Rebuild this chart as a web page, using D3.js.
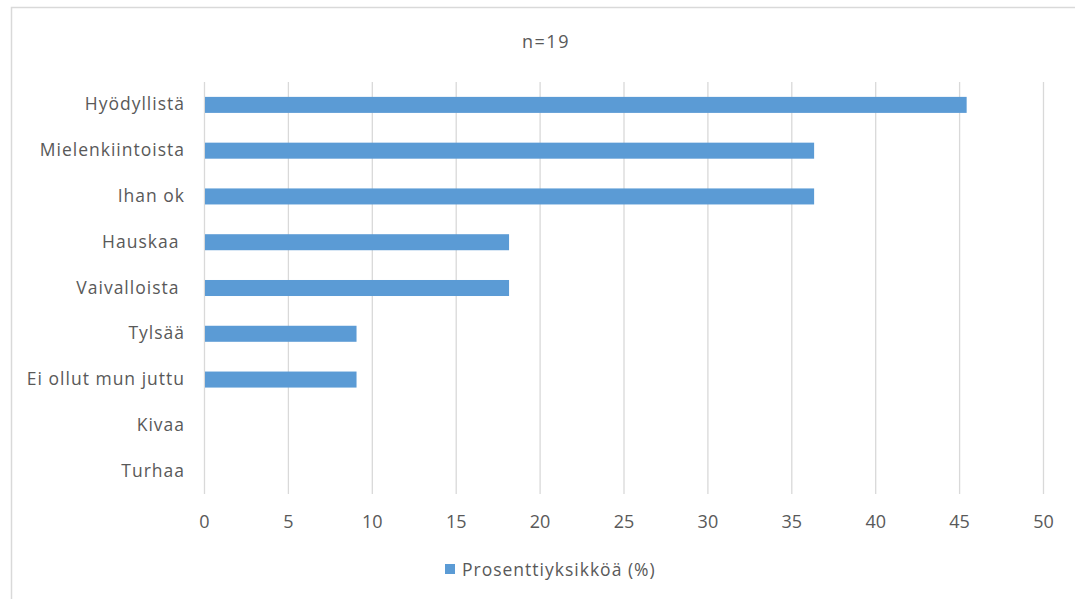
<!DOCTYPE html>
<html>
<head>
<meta charset="utf-8">
<script src="https://cdn.jsdelivr.net/npm/d3@7"></script>
<style>
  body { margin: 0; background: #fff; }
  svg text { font-family: "Open Sans", "Liberation Sans", sans-serif; fill: #595959; }
</style>
</head>
<body>
<div id="chart"></div>
<script>
// categories top -> bottom (trailing spaces as in the original labels)
const categories = ["Hyödyllistä", "Mielenkiintoista", "Ihan ok", "Hauskaa ", "Vaivalloista ", "Tylsää", "Ei ollut mun juttu", "Kivaa", "Turhaa"];
const values = [45.45, 36.36, 36.36, 18.18, 18.18, 9.09, 9.09, 0, 0];
const xTicks = [0, 5, 10, 15, 20, 25, 30, 35, 40, 45, 50];
const chartTitle = "n=19";
const seriesName = "Prosenttiyksikköä (%)";

const width = 1075, height = 599;
const margin = { top: 82, right: 32, bottom: 105, left: 204 };
const barColor = "#5b9bd5";

const svg = d3.select("#chart").append("svg")
    .attr("width", width)
    .attr("height", height);

// outer chart frame (runs off the right/bottom edge like the screenshot)
svg.append("rect")
    .attr("x", 11.5).attr("y", 7.5)
    .attr("width", 1200).attr("height", 700)
    .attr("fill", "none")
    .attr("stroke", "#d9d9d9")
    .attr("stroke-width", 1.5);

const g = svg.append("g")
    .attr("transform", `translate(${margin.left},${margin.top})`);

const innerW = 1043 - margin.left;
const innerH = 494 - margin.top;

const x = d3.scaleLinear().domain([0, 50]).range([0, innerW]);
const y = d3.scaleBand().domain(categories).range([0, innerH]).paddingInner(0.65).paddingOuter(0.325);

// vertical gridlines
g.selectAll(".grid")
    .data(xTicks)
    .enter().append("line")
    .attr("class", "grid")
    .attr("x1", d => x(d) + 0.5).attr("x2", d => x(d) + 0.5)
    .attr("y1", 0).attr("y2", innerH)
    .attr("stroke", "#d9d9d9")
    .attr("stroke-width", 1.3);

// bars
g.selectAll(".bar")
    .data(categories)
    .enter().append("rect")
    .attr("class", "bar")
    .attr("x", x(0) + 1)
    .attr("y", d => y(d))
    .attr("width", (d, i) => Math.max(0, x(values[i]) - x(0) - 1))
    .attr("height", y.bandwidth())
    .attr("fill", barColor);

// x axis labels
const xAxis = g.append("g")
    .attr("transform", `translate(0,${innerH})`)
    .call(d3.axisBottom(x).tickValues(xTicks).tickSize(0).tickPadding(21));
xAxis.select(".domain").remove();
xAxis.selectAll("text")
    .style("font-size", "18px")
    .style("font-family", null)
    .attr("font-family", null)
    .attr("fill", "#595959");

// y axis labels
const yAxis = g.append("g")
    .call(d3.axisLeft(y).tickSize(0).tickPadding(19));
yAxis.select(".domain").remove();
yAxis.selectAll("text")
    .style("font-size", "17.5px")
    .style("letter-spacing", "1px")
    .style("white-space", "pre")
    .attr("font-family", null)
    .attr("fill", "#595959");

// title
svg.append("text")
    .attr("x", 546)
    .attr("y", 48)
    .attr("text-anchor", "middle")
    .style("font-size", "18px")
    .style("letter-spacing", "1.5px")
    .text(chartTitle);

// legend
svg.append("rect")
    .attr("x", 445).attr("y", 564)
    .attr("width", 10).attr("height", 10)
    .attr("fill", barColor);
svg.append("text")
    .attr("x", 462)
    .attr("y", 576)
    .style("font-size", "17.5px")
    .style("letter-spacing", "1px")
    .text(seriesName);
</script>
</body>
</html>
